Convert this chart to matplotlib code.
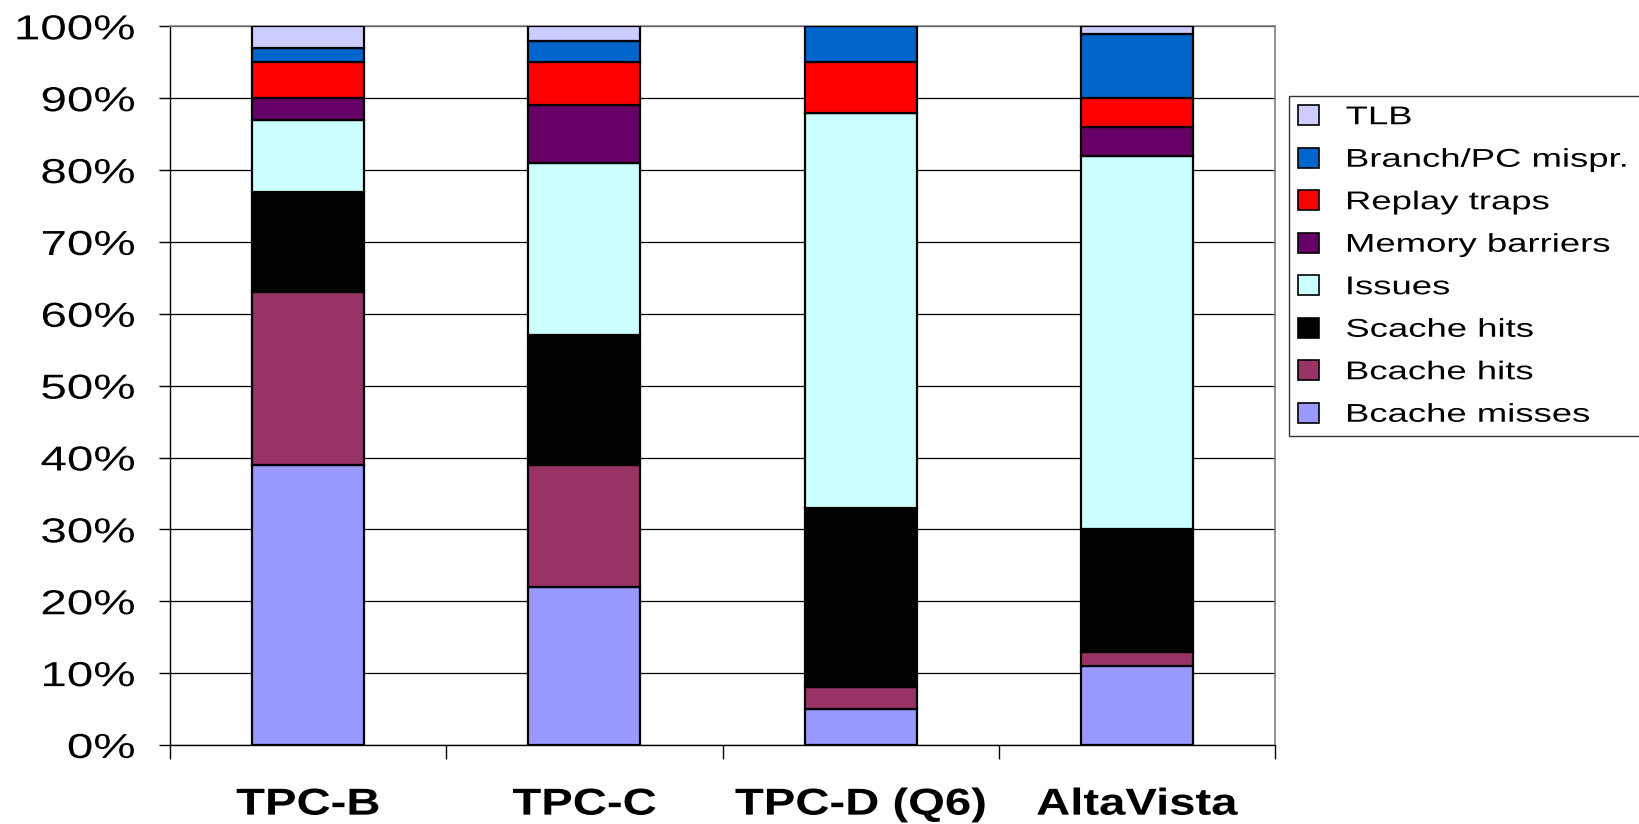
import matplotlib
matplotlib.use("Agg")
import matplotlib.pyplot as plt
import numpy as np
from matplotlib.patches import Patch
from matplotlib.patheffects import AbstractPathEffect
from matplotlib.ticker import FixedLocator, PercentFormatter
from matplotlib.transforms import Affine2D

plt.rcParams["font.family"] = ["Liberation Sans", "DejaVu Sans"]

# ---------------------------------------------------------------------------
# Data: share of stall cycles per workload (%), bottom -> top of each stack
# ---------------------------------------------------------------------------
workloads = ["TPC-B", "TPC-C", "TPC-D (Q6)", "AltaVista"]

bcache_misses   = [39, 22, 5, 11]
bcache_hits     = [24, 17, 3, 2]
scache_hits     = [14, 18, 25, 17]
issues          = [10, 24, 55, 52]
memory_barriers = [3, 8, 0, 4]
replay_traps    = [5, 6, 7, 4]
branch_mispr    = [2, 3, 5, 9]
tlb             = [3, 2, 0, 1]

series = [
    ("Bcache misses",     bcache_misses,   "#9999FF"),
    ("Bcache hits",       bcache_hits,     "#993366"),
    ("Scache hits",       scache_hits,     "#000000"),
    ("Issues",            issues,          "#CCFFFF"),
    ("Memory barriers",   memory_barriers, "#660066"),
    ("Replay traps",      replay_traps,    "#FF0000"),
    ("Branch/PC mispr.",  branch_mispr,    "#0066CC"),
    ("TLB",               tlb,             "#CCCCFF"),
]


class WideText(AbstractPathEffect):
    """Stretch glyphs horizontally about a fixed point of the text line.

    anchor: 0 = keep left edge, 0.5 = keep centre, 1 = keep right edge.
    """

    def __init__(self, sx=1.3, anchor=0.0):
        super().__init__()
        self.sx = sx
        self.anchor = anchor

    def draw_path(self, renderer, gc, tpath, affine, rgbFace=None):
        ext = tpath.get_extents()
        xa = ext.x0 + self.anchor * (ext.x1 - ext.x0)
        stretch = Affine2D().translate(-xa, 0).scale(self.sx, 1).translate(xa, 0)
        renderer.draw_path(gc, tpath, stretch + affine, rgbFace)


fig = plt.figure(figsize=(16.39, 8.24), dpi=100)
ax = fig.add_axes([0.1037, 0.0959, 0.6743, 0.8721])

x = np.arange(len(workloads))
bottom = np.zeros(len(workloads))
for name, vals, color in series:
    vals = np.asarray(vals, dtype=float)
    ax.bar(x, vals, width=0.405, bottom=bottom, color=color,
           edgecolor="black", linewidth=1.6, zorder=3)
    bottom += vals

ax.set_xlim(-0.5, len(workloads) - 0.5)
ax.set_ylim(0, 100)

# y axis: percent labels, gridlines every 10 %
ax.yaxis.set_major_locator(FixedLocator(np.arange(0, 101, 10)))
ax.yaxis.set_major_formatter(PercentFormatter(decimals=0))
ax.tick_params(axis="y", direction="out", length=8, width=1,
               labelsize=25, pad=17)
ax.grid(axis="y", color="black", linewidth=0.9, zorder=0)

# x axis: labels centred on bars, tick marks on category boundaries
ax.set_xticks(x)
ax.set_xticklabels(workloads, fontsize=27, fontweight="bold")
ax.tick_params(axis="x", which="major", length=0, pad=30)
ax.set_xticks(np.arange(-0.5, len(workloads)), minor=True)
ax.tick_params(axis="x", which="minor", direction="out", length=10,
               width=1, color="black")

for lab in ax.get_yticklabels():
    lab.set_path_effects([WideText(1.37, 1.0)])
for lab in ax.get_xticklabels():
    lab.set_path_effects([WideText(1.26, 0.5)])

for side in ("top", "right"):
    ax.spines[side].set_color("#808080")
    ax.spines[side].set_linewidth(1.2)
for side in ("left", "bottom"):
    ax.spines[side].set_color("black")
    ax.spines[side].set_linewidth(1.0)

# legend box runs off the right edge of the figure
handles = [Patch(facecolor=c, edgecolor="black", linewidth=1.2, label=n)
           for n, _, c in reversed(series)]
leg = fig.legend(handles=handles, loc="upper left", mode="expand",
                 bbox_to_anchor=(0.7865, 0.0, 0.3, 0.8835), fontsize=18.5,
                 frameon=True, fancybox=False, edgecolor="black",
                 handlelength=0.8, handleheight=0.8, handletextpad=1.05,
                 labelspacing=0.72, borderpad=0.36, borderaxespad=0)
leg.get_frame().set_linewidth(1.0)
for t in leg.get_texts():
    t.set_path_effects([WideText(1.42, 0.0)])

fig.savefig("out.png", dpi=100)
